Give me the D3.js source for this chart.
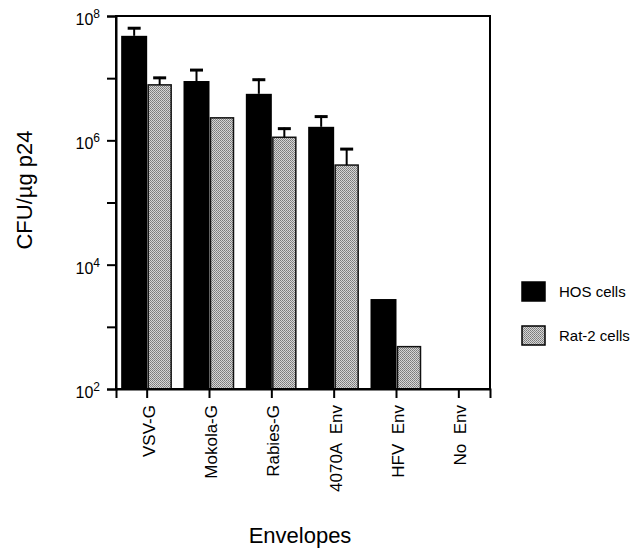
<!DOCTYPE html>
<html>
<head>
<meta charset="utf-8">
<script src="https://cdn.jsdelivr.net/npm/d3@7"></script>
<style>
  body { margin: 0; background: #fff; }
  text { font-family: "Liberation Sans", Arial, sans-serif; fill: #000; }
</style>
</head>
<body>
<div id="chart"></div>
<script>
// values (CFU per ug p24), null = no bar
var envelopes = ["VSV-G", "Mokola-G", "Rabies-G", "4070A  Env", "HFV  Env", "No  Env"];
var hosCells = [4.8e7, 9.0e6, 5.6e6, 1.65e6, 2.8e3, null];
var hosErrTop = [6.6e7, 1.4e7, 9.8e6, 2.5e6, null, null];
var ratCells = [7.8e6, 2.3e6, 1.12e6, 4.0e5, 4.8e2, null];
var ratErrTop = [1.05e7, null, 1.6e6, 7.5e5, null, null];
var series = ["HOS cells", "Rat-2 cells"];
var yTickExps = [2, 3, 4, 5, 6, 7, 8];

var width = 643, height = 548;
var margin = {top: 16, right: 153, bottom: 159, left: 116};
var plotW = width - margin.left - margin.right,
    plotH = height - margin.top - margin.bottom;

var svg = d3.select("#chart")
  .append("svg")
  .attr("width", width)
  .attr("height", height);

// stippled grey fill for Rat-2 bars
var pat = svg.append("defs")
  .append("pattern")
  .attr("id", "stipple")
  .attr("width", 2)
  .attr("height", 2)
  .attr("patternUnits", "userSpaceOnUse");
pat.append("rect").attr("width", 2).attr("height", 2).attr("fill", "#d6d6d6");
pat.append("rect").attr("width", 1).attr("height", 1).attr("fill", "#7a7a7a");
pat.append("rect").attr("x", 1).attr("y", 1).attr("width", 1).attr("height", 1).attr("fill", "#8a8a8a");

var g = svg.append("g")
  .attr("transform", "translate(" + margin.left + "," + margin.top + ")");

var x = d3.scaleBand()
  .domain(envelopes)
  .range([0, plotW]);

var y = d3.scaleLog()
  .domain([1e2, 1e8])
  .range([plotH, 0]);

var barW = 25;

// HOS bars (left of tick)
g.selectAll(".hos")
  .data(envelopes.map(function(d, i) { return {env: d, v: hosCells[i], e: hosErrTop[i]}; }))
  .enter()
  .filter(function(d) { return d.v != null; })
  .append("rect")
  .attr("class", "hos")
  .attr("x", function(d) { return x(d.env) + x.bandwidth() / 2 - barW - 1; })
  .attr("y", function(d) { return y(d.v); })
  .attr("width", barW + 1)
  .attr("height", function(d) { return plotH - y(d.v); })
  .style("fill", "#000");

// Rat-2 bars (right of tick)
g.selectAll(".rat")
  .data(envelopes.map(function(d, i) { return {env: d, v: ratCells[i], e: ratErrTop[i]}; }))
  .enter()
  .filter(function(d) { return d.v != null; })
  .append("rect")
  .attr("class", "rat")
  .attr("x", function(d) { return x(d.env) + x.bandwidth() / 2 + 1; })
  .attr("y", function(d) { return y(d.v); })
  .attr("width", barW - 2)
  .attr("height", function(d) { return plotH - y(d.v); })
  .style("fill", "url(#stipple)")
  .style("stroke", "#111")
  .style("stroke-width", 1.5);

// error bars, upper whisker only
function errBars(vals, errs, offset, cls) {
  var rows = [];
  for (var i = 0; i < envelopes.length; i++) {
    if (vals[i] != null && errs[i] != null)
      rows.push({env: envelopes[i], v: vals[i], e: errs[i]});
  }
  var eg = g.selectAll("." + cls)
    .data(rows)
    .enter()
    .append("g")
    .attr("class", cls)
    .attr("transform", function(d) {
      return "translate(" + (x(d.env) + x.bandwidth() / 2 + offset) + ",0)";
    });
  eg.append("line")
    .attr("y1", function(d) { return y(d.v); })
    .attr("y2", function(d) { return y(d.e); })
    .style("stroke", "#000")
    .style("stroke-width", 2);
  eg.append("line")
    .attr("x1", -6.5).attr("x2", 6.5)
    .attr("y1", function(d) { return y(d.e) + 1; })
    .attr("y2", function(d) { return y(d.e) + 1; })
    .style("stroke", "#000")
    .style("stroke-width", 3);
}
errBars(hosCells, hosErrTop, -barW / 2 - 0.5, "hoserr");
errBars(ratCells, ratErrTop, barW / 2, "raterr");

// frame
g.append("rect")
  .attr("width", plotW)
  .attr("height", plotH)
  .style("fill", "none")
  .style("stroke", "#000")
  .style("stroke-width", 2);

// y axis
var yAxis = d3.axisLeft(y)
  .tickValues(yTickExps.map(function(e) { return Math.pow(10, e); }))
  .tickSize(9)
  .tickFormat("");
var ya = g.append("g").call(yAxis);
ya.select(".domain").style("stroke-width", 2);
ya.selectAll(".tick line").style("stroke-width", 2);

var ylab = g.selectAll(".ylab")
  .data(yTickExps.filter(function(e) { return e % 2 == 0; }))
  .enter()
  .append("text")
  .attr("class", "ylab")
  .attr("x", -16)
  .attr("y", function(e) { return y(Math.pow(10, e)) + 9; })
  .attr("text-anchor", "end")
  .style("font-size", "16px");
ylab.append("tspan").text("10");
ylab.append("tspan")
  .attr("dy", -7)
  .style("font-size", "12px")
  .text(function(e) { return e; });

// x axis
var xAxis = d3.axisBottom(x).tickSize(9).tickFormat("");
var xa = g.append("g")
  .attr("transform", "translate(0," + plotH + ")")
  .call(xAxis);
xa.select(".domain").style("stroke-width", 2);
xa.selectAll(".tick line").style("stroke-width", 2);

g.selectAll(".xlab")
  .data(envelopes)
  .enter()
  .append("text")
  .attr("class", "xlab")
  .attr("transform", function(d) {
    return "translate(" + (x(d) + x.bandwidth() / 2 + 2) + "," + (plotH + 16) + ") rotate(-90)";
  })
  .attr("text-anchor", "end")
  .attr("dominant-baseline", "central")
  .style("font-size", "17px")
  .style("white-space", "pre")
  .text(function(d) { return d; });

// axis titles
svg.append("text")
  .attr("transform", "translate(32,190) rotate(-90)")
  .attr("text-anchor", "middle")
  .style("font-size", "22px")
  .text("CFU/\u00b5g p24");

svg.append("text")
  .attr("x", 300)
  .attr("y", 543)
  .attr("text-anchor", "middle")
  .style("font-size", "22px")
  .text("Envelopes");

// legend
var legend = svg.selectAll(".legend")
  .data(series)
  .enter()
  .append("g")
  .attr("class", "legend")
  .attr("transform", function(d, i) { return "translate(522," + (282 + i * 44) + ")"; });

legend.append("rect")
  .attr("width", 23)
  .attr("height", 19)
  .style("fill", function(d, i) { return i == 0 ? "#000" : "url(#stipple)"; })
  .style("stroke", "#000")
  .style("stroke-width", 1.5);

legend.append("text")
  .attr("x", 37)
  .attr("y", 15)
  .style("font-size", "15px")
  .text(function(d) { return d; });
</script>
</body>
</html>
